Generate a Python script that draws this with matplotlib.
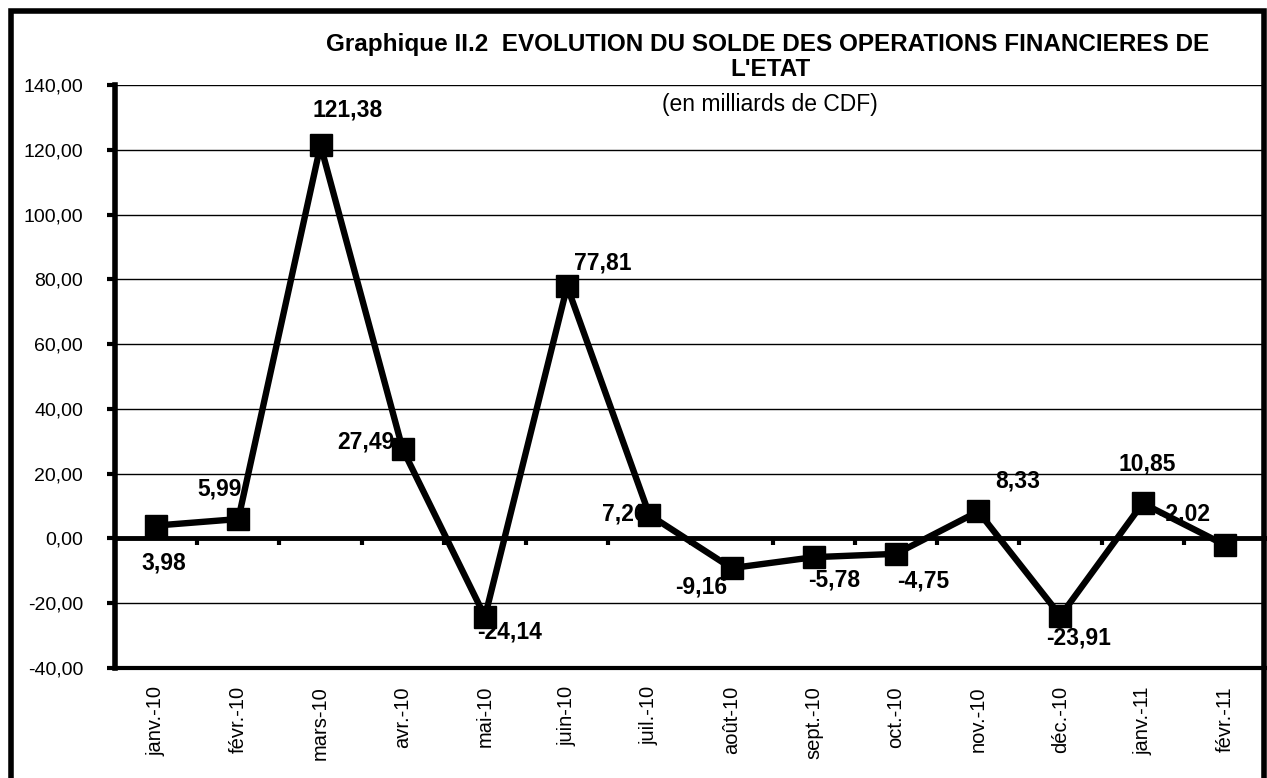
import numpy as np
import matplotlib
matplotlib.use("Agg")
import matplotlib.pyplot as plt
from matplotlib.patches import Rectangle
from matplotlib.ticker import FuncFormatter

plt.rcParams["font.family"] = ["Liberation Sans", "DejaVu Sans"]

months = ["janv.-10", "févr.-10", "mars-10", "avr.-10", "mai-10", "juin-10",
          "juil.-10", "août-10", "sept.-10", "oct.-10", "nov.-10", "déc.-10",
          "janv.-11", "févr.-11"]
solde = [3.98, 5.99, 121.38, 27.49, -24.14, 77.81, 7.26, -9.16, -5.78,
         -4.75, 8.33, -23.91, 10.85, -2.02]

# label offsets in pixels (dx, dy) relative to each point
offsets = [(8, -37), (-19, 30), (27, 35), (-37, 7), (25, -15), (36, 23),
           (-25, 1), (-30, -19), (20, -23), (27, -27), (39, 30), (18, -22),
           (5, 39), (-41, 31)]

fig = plt.figure(figsize=(12.67, 7.78), dpi=100)
ax = fig.add_axes([115 / 1267, 110 / 778, (1266 - 115) / 1267, (668 - 85) / 778])

x = np.arange(len(months))
ax.plot(x, solde, color="black", lw=4.6, marker="s", ms=16.5,
        markerfacecolor="black", zorder=5, clip_on=False)

for xi, v, (dx, dy) in zip(x, solde, offsets):
    lab = f"{v:.2f}".replace(".", ",")
    ax.annotate(lab, (xi, v), xytext=(dx, dy), textcoords="offset pixels",
                ha="center", va="center", fontsize=16.5, fontweight="bold",
                zorder=3)

ax.set_xlim(-0.5, len(months) - 0.5)
ax.set_ylim(-40, 140)
ax.set_yticks(np.arange(-40, 141, 20))
ax.yaxis.set_major_formatter(FuncFormatter(lambda v, p: f"{v:.2f}".replace(".", ",")))
ax.grid(axis="y", color="black", lw=1)
ax.set_axisbelow(True)

ax.set_xticks(x)
ax.set_xticklabels(months, rotation=90, fontsize=14.5)
ax.tick_params(axis="x", length=0, pad=13)
ax.tick_params(axis="y", direction="out", length=6, width=3, labelsize=14, pad=17)

for s in ["top", "right"]:
    ax.spines[s].set_visible(False)
ax.spines["left"].set_linewidth(4)
ax.spines["bottom"].set_linewidth(3)

# horizontal axis crossing at zero with ticks between categories
sec = ax.secondary_xaxis(40 / 180)
sec.set_xticks(np.arange(0.5, len(months) - 1, 1.0))
sec.set_xticklabels([])
sec.tick_params(direction="out", length=5, width=3)
sec.spines["bottom"].set_linewidth(3.5)

fig.text(768 / 1267, 1 - 45 / 778,
         "Graphique II.2  EVOLUTION DU SOLDE DES OPERATIONS FINANCIERES DE",
         ha="center", va="center", fontsize=17.5, fontweight="bold")
fig.text(770 / 1267, 1 - 70 / 778, "L'ETAT", ha="center", va="center",
         fontsize=17.5, fontweight="bold")
fig.text(770 / 1267, 1 - 105 / 778, "(en milliards de CDF)", ha="center",
         va="center", fontsize=16.5)

fig.patches.append(Rectangle((10.5 / 1267, -0.2), (1264 - 10.5) / 1267, 1.2 - 10.5 / 778,
                             transform=fig.transFigure, fill=False,
                             edgecolor="black", lw=4, zorder=10))

fig.savefig("out.png", dpi=100)
